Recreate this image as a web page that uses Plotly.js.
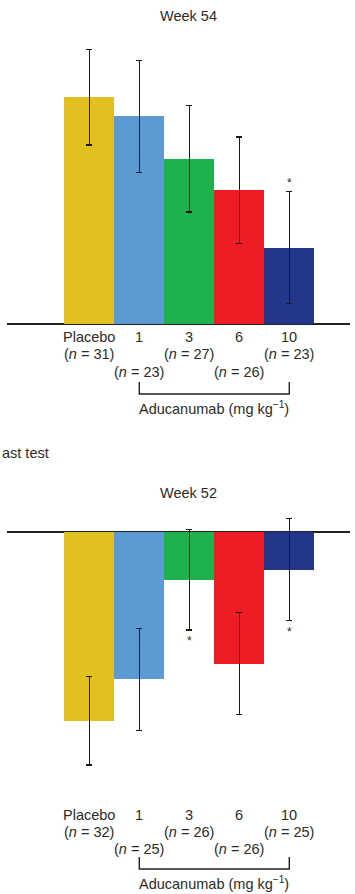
<!DOCTYPE html>
<html>
<head>
<meta charset="utf-8">
<script src="https://cdn.plot.ly/plotly-3.0.1.min.js"></script>
<style>
  html, body { margin: 0; padding: 0; background: #fff; }
  #chart { width: 355px; height: 894px; }
</style>
</head>
<body>
<div id="chart"></div>
<script>
// ---------- DATA ----------
const categories = ['Placebo', '1', '3', '6', '10'];
const barColors = ['#E2C01F', '#5B9AD3', '#1FB24C', '#EE1C25', '#243689'];

// Week 54 panel (CDR-SB change from baseline)
const week54N = [31, 23, 27, 26, 23];
const week54Values = [1.66, 1.52, 1.21, 0.98, 0.56];
const week54Errors = [0.35, 0.41, 0.39, 0.39, 0.41];
const week54Significant = [false, false, false, false, true];

// Week 52 panel (MMSE change from baseline)
const week52N = [32, 25, 26, 26, 25];
const week52Values = [-3.14, -2.45, -0.79, -2.19, -0.62];
const week52Errors = [0.74, 0.85, 0.84, 0.85, 0.85];
const week52Significant = [false, false, true, false, true];

const panelTitles = ['Week 54', 'Week 52'];
const groupLabel = 'Aducanumab (mg kg<sup>−1</sup>)';
const captionFragment = 'ast test';

// ---------- LAYOUT HELPERS ----------
const W = 355, H = 894;
const FONT = 'Liberation Sans, Arial, sans-serif';
const FS = 14.5;
const TXT = '#2b2b2b';
const py = p => 1 - p / H; // pixel row -> paper y

function yAxisFor(pxTop, pxBot, zeroPx, pxPerUnit) {
  return {
    domain: [py(pxBot), py(pxTop)],
    range: [(zeroPx - pxBot) / pxPerUnit, (zeroPx - pxTop) / pxPerUnit],
    showgrid: false, showticklabels: false, ticks: '', showline: false,
    zeroline: true, zerolinecolor: '#222', zerolinewidth: 1.6,
    fixedrange: true
  };
}
const xRange = [-1.646, 5.214];
function xAxisFor(anchor) {
  return {
    range: xRange, domain: [0, 1], anchor: anchor,
    showgrid: false, showticklabels: false, ticks: '', showline: false,
    zeroline: false, fixedrange: true
  };
}

const idx = categories.map((_, i) => i);
function barTrace(values, errors, xa, ya) {
  return {
    type: 'bar', x: idx, y: values, xaxis: xa, yaxis: ya,
    width: 1,
    marker: { color: barColors, line: { width: 0 } },
    error_y: { type: 'data', array: errors, visible: true,
               color: '#1a1a1a', thickness: 1.5, width: 3 },
    hoverinfo: 'skip', showlegend: false
  };
}

const data = [
  barTrace(week54Values, week54Errors, 'x', 'y'),
  barTrace(week52Values, week52Errors, 'x2', 'y2')
];

// panel geometry in pixels
const panels = [
  { xref: 'x', titleY: 16, rows: [337, 353.5, 371.5], brTop: 382, brBot: 394, groupY: 408,
    n: week54N, vals: week54Values, errs: week54Errors, sig: week54Significant, starAbove: true },
  { xref: 'x2', titleY: 493, rows: [815, 831.5, 849], brTop: 857, brBot: 869, groupY: 883,
    n: week52N, vals: week52Values, errs: week52Errors, sig: week52Significant, starAbove: false }
];

const annotations = [];
const shapes = [];
panels.forEach((p, k) => {
  annotations.push({ xref: 'paper', yref: 'paper', x: (188.5 - 7) / (W - 12), y: py(p.titleY),
    text: panelTitles[k], showarrow: false, xanchor: 'center', yanchor: 'middle',
    font: { family: FONT, size: FS, color: TXT } });
  categories.forEach((c, i) => {
    annotations.push({ xref: p.xref, yref: 'paper', x: i, y: py(p.rows[0]), text: c,
      showarrow: false, xanchor: 'center', yanchor: 'middle',
      font: { family: FONT, size: FS, color: TXT } });
    const row = (i % 2 === 0) ? p.rows[1] : p.rows[2];
    annotations.push({ xref: p.xref, yref: 'paper', x: i, y: py(row),
      text: '(<i>n</i> = ' + p.n[i] + ')',
      showarrow: false, xanchor: 'center', yanchor: 'middle',
      font: { family: FONT, size: FS, color: TXT } });
  });
  shapes.push({ type: 'path', xref: p.xref, yref: 'paper',
    path: 'M 1 ' + py(p.brTop) + ' L 1 ' + py(p.brBot) + ' L 4 ' + py(p.brBot) + ' L 4 ' + py(p.brTop),
    line: { color: '#222', width: 1.4 } });
  annotations.push({ xref: p.xref, yref: 'paper', x: 2.5, y: py(p.groupY), text: groupLabel,
    showarrow: false, xanchor: 'center', yanchor: 'middle',
    font: { family: FONT, size: FS, color: TXT } });
  // significance markers
  const ya = k === 0 ? 'y' : 'y2';
  p.sig.forEach((s, i) => {
    if (!s) return;
    const yv = p.starAbove ? p.vals[i] + p.errs[i] : p.vals[i] - p.errs[i];
    annotations.push({ xref: p.xref, yref: ya, x: i, y: yv, text: '*',
      showarrow: false, xanchor: 'center', yanchor: p.starAbove ? 'bottom' : 'top',
      yshift: p.starAbove ? -1 : -2,
      font: { family: FONT, size: 12, color: TXT } });
  });
});
annotations.push({ xref: 'paper', yref: 'paper', x: -7 / (W - 12), y: py(453),
  text: captionFragment, showarrow: false, xanchor: 'left', yanchor: 'middle',
  font: { family: FONT, size: FS, color: TXT } });

const layout = {
  width: W, height: H,
  margin: { l: 7, r: 5, t: 0, b: 0 },
  paper_bgcolor: '#fff', plot_bgcolor: 'rgba(0,0,0,0)',
  bargap: 0, showlegend: false,
  xaxis: xAxisFor('y'),
  xaxis2: xAxisFor('y2'),
  yaxis: yAxisFor(30, 330, 324, 136.6),
  yaxis2: yAxisFor(505, 790, 532.3, 60),
  annotations: annotations,
  shapes: shapes
};

Plotly.newPlot('chart', data, layout, { displayModeBar: false, staticPlot: true });
</script>
</body>
</html>
